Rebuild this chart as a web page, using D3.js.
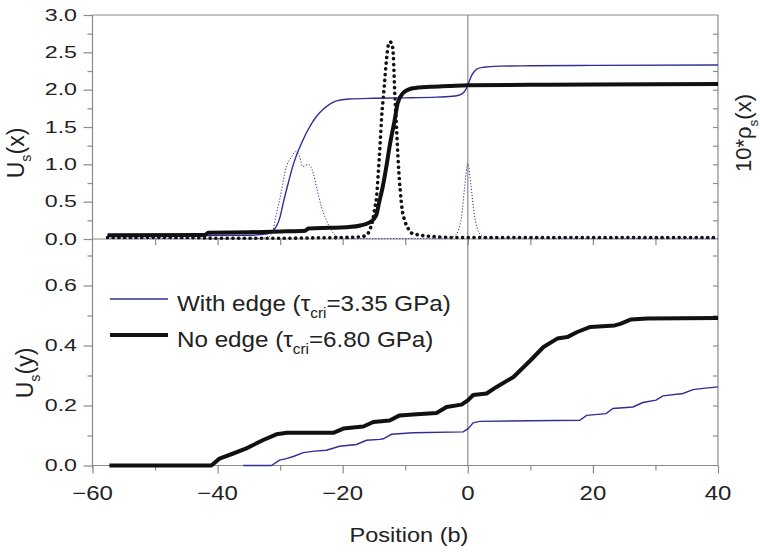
<!DOCTYPE html>
<html><head><meta charset="utf-8">
<script src="https://cdn.jsdelivr.net/npm/d3@7/dist/d3.min.js"></script>
<style>body{margin:0;background:#fff}svg{display:block}text{font-family:"Liberation Sans",Arial,sans-serif;fill:#222}</style>
</head><body><svg id="c" width="760" height="553"></svg>
<script>
// ---------- data ----------
const xTicks = [-60,-40,-20,0,20,40];
const topYTicks = [0.0,0.5,1.0,1.5,2.0,2.5,3.0];
const botYTicks = [0.0,0.2,0.4,0.6];
const legendLabels = ["With edge", "No edge"];
const legendTau = ["=3.35 GPa)", "=6.80 GPa)"];

// Us(x) with edge (blue, solid)
const edgeUx = [[-57.6,0.04],[-45,0.045],[-35,0.05],[-32,0.07],[-31,0.12],[-30,0.3],[-29.4,0.52],[-28.7,0.75],[-28,0.97],[-26.5,1.3],[-25.3,1.5],[-24.2,1.64],[-23.2,1.73],[-22,1.81],[-21,1.85],[-19,1.875],[-15,1.885],[-10,1.89],[-5,1.9],[-2,1.915],[-1,1.94],[-0.4,1.99],[0,2.06],[0.5,2.17],[1,2.24],[1.5,2.28],[2.5,2.3],[5,2.315],[10,2.32],[20,2.325],[40,2.33]];
// Us(x) no edge (black, thick)
const noEdgeUx = [[-57.6,0.05],[-42,0.055],[-41.5,0.085],[-35,0.09],[-30,0.1],[-26,0.11],[-25.5,0.14],[-22,0.15],[-19,0.16],[-17,0.185],[-16,0.21],[-15,0.27],[-14.6,0.33],[-14.2,0.48],[-13.6,0.7],[-13,0.98],[-12.5,1.24],[-11.7,1.59],[-11.2,1.82],[-10.4,1.95],[-9.5,2.0],[-8.8,2.02],[-6,2.04],[-3,2.05],[0,2.06],[10,2.065],[20,2.07],[40,2.075]];
// 10*rho_s(x) with edge (blue, dotted)
const edgeRho = [[-57.6,0.005],[-35,0.005],[-32,0.02],[-31.2,0.1],[-30.6,0.34],[-30.1,0.52],[-29,0.97],[-28.2,1.1],[-27.5,1.17],[-26.9,1.1],[-26.4,0.97],[-25.5,1.0],[-24.7,0.88],[-24.2,0.7],[-23.4,0.43],[-22.6,0.25],[-21.5,0.08],[-20.5,0.02],[-19,0.005],[-3,0.01],[-2,0.05],[-1.5,0.12],[-1,0.3],[-0.5,0.7],[0,1.01],[0.5,0.72],[1,0.35],[1.5,0.15],[2,0.06],[3,0.01],[40,0.005]];
// 10*rho_s(x) no edge (black, thick dots)
const noEdgeRho = [[-57.6,0.02],[-45,0.02],[-40,0.01],[-30,0.01],[-25,0.015],[-20,0.02],[-17,0.03],[-16,0.07],[-15.7,0.12],[-15.2,0.25],[-14.9,0.4],[-14.6,0.55],[-14.3,0.9],[-14.0,1.3],[-13.8,1.6],[-13.4,2.0],[-13.0,2.4],[-12.7,2.6],[-12.4,2.64],[-12.1,2.6],[-11.9,2.45],[-11.7,2.0],[-11.4,1.5],[-11.1,1.0],[-10.8,0.65],[-10.5,0.4],[-10.1,0.25],[-9.6,0.15],[-9.0,0.08],[-7.5,0.05],[-5,0.03],[-2,0.02],[40,0.02]];
// Us(y) with edge (blue)
const edgeUy = [[-35.9,0],[-31.4,0],[-30.1,0.018],[-29,0.023],[-27.9,0.03],[-26.3,0.043],[-24.5,0.048],[-22.6,0.051],[-20.5,0.064],[-17.8,0.07],[-16.2,0.084],[-14.1,0.087],[-13.5,0.089],[-12.2,0.104],[-8.75,0.109],[-0.75,0.112],[0.05,0.123],[0.85,0.142],[1.9,0.147],[10,0.149],[17.9,0.151],[19,0.167],[22.1,0.173],[23.2,0.19],[26.4,0.195],[28,0.21],[30.1,0.218],[31.2,0.232],[34.4,0.24],[36,0.253],[38,0.258],[40,0.262]];
// Us(y) no edge (black)
const noEdgeUy = [[-57.3,0],[-41,0],[-39.7,0.023],[-37.5,0.04],[-35.4,0.057],[-32.7,0.085],[-30.6,0.104],[-28.9,0.109],[-24.7,0.109],[-21.5,0.109],[-19.9,0.123],[-16.7,0.13],[-15.1,0.145],[-12.5,0.15],[-10.9,0.167],[-8.75,0.17],[-5.0,0.175],[-3.4,0.195],[-1.0,0.203],[0.05,0.218],[0.85,0.235],[3.0,0.24],[4.6,0.262],[7.3,0.295],[10,0.35],[12.1,0.395],[14.3,0.423],[15.9,0.428],[17.5,0.445],[19.6,0.462],[23.5,0.467],[24.5,0.473],[26.1,0.487],[28.7,0.49],[40,0.492]];

// ---------- drawing ----------
const svg = d3.select("#c");
const BLUE = "#2f2f96", AX = "#8a8a8a";
const x = d3.scaleLinear().domain([-60,40]).range([92.5,718]);
const yT = d3.scaleLinear().domain([0,3]).range([239,15]);
const yB = d3.scaleLinear().domain([0,0.6]).range([465.5,285.5]);

// frame
const frame = svg.append("g").attr("stroke",AX).attr("stroke-width",1.2).attr("fill","none");
frame.append("line").attr("x1",x(-60)).attr("x2",x(-60)).attr("y1",yT(3)).attr("y2",yB(0)+3);
frame.append("line").attr("x1",x(40)).attr("x2",x(40)).attr("y1",yT(3)).attr("y2",yB(0));
frame.append("line").attr("x1",x(-60)).attr("x2",x(40)).attr("y1",yT(3)).attr("y2",yT(3));
frame.append("line").attr("x1",x(-60)).attr("x2",x(40)).attr("y1",yT(0)).attr("y2",yT(0));
frame.append("line").attr("x1",x(-60)).attr("x2",x(40)).attr("y1",yB(0)).attr("y2",yB(0));
frame.append("line").attr("x1",x(0)).attr("x2",x(0)).attr("y1",yT(3)).attr("y2",yB(0));

// top-panel axes
const gTL = svg.append("g").attr("transform",`translate(${x(-60)},0)`)
  .call(d3.axisLeft(yT).tickValues(topYTicks).tickSize(9).tickFormat(""));
const gTLm = svg.append("g").attr("transform",`translate(${x(-60)},0)`)
  .call(d3.axisLeft(yT).tickValues(d3.range(0.25,3,0.5)).tickSize(5).tickFormat(""));
const gTR = svg.append("g").attr("transform",`translate(${x(40)},0)`)
  .call(d3.axisLeft(yT).tickValues(d3.range(0.25,3,0.25)).tickSize(5).tickFormat(""));
// bottom-panel axes
const gBL = svg.append("g").attr("transform",`translate(${x(-60)},0)`)
  .call(d3.axisLeft(yB).tickValues(botYTicks).tickSize(9).tickFormat(""));
const gBLm = svg.append("g").attr("transform",`translate(${x(-60)},0)`)
  .call(d3.axisLeft(yB).tickValues([0.1,0.3,0.5,0.7]).tickSize(5).tickFormat(""));
const gBR = svg.append("g").attr("transform",`translate(${x(40)},0)`)
  .call(d3.axisLeft(yB).tickValues([0.1,0.2,0.3,0.4,0.5,0.6,0.7]).tickSize(5).tickFormat(""));
// x ticks
const gXm = svg.append("g").attr("transform",`translate(0,${yB(0)})`)
  .call(d3.axisBottom(x).tickValues(d3.range(-50,40,20)).tickSize(5).tickFormat(""));
const gX = svg.append("g").attr("transform",`translate(0,${yB(0)})`)
  .call(d3.axisBottom(x).tickValues(xTicks).tickSize(8).tickFormat(""));
const gXmid = svg.append("g").attr("transform",`translate(0,${yT(0)})`)
  .call(d3.axisBottom(x).tickValues(d3.range(-50,40,10)).tickSize(6).tickFormat(""));
[gTL,gTLm,gTR,gBL,gBLm,gBR,gXm,gX,gXmid].forEach(g=>{
  g.select(".domain").remove();
  g.selectAll("line").attr("stroke",AX).attr("stroke-width",1.2);
});

// tick labels
const yLab = (vals, sc, fmt) => vals.forEach(v=>{
  svg.append("g").attr("transform",`translate(77,${sc(v)+5.8}) scale(1.45,1)`)
    .append("text").attr("text-anchor","end").attr("font-size",16).text(fmt(v));
});
yLab(topYTicks, yT, d3.format(".1f"));
yLab(botYTicks, yB, d3.format(".1f"));
xTicks.forEach(v=>{
  svg.append("g").attr("transform",`translate(${x(v)},500) scale(1.2,1)`)
    .append("text").attr("text-anchor","middle").attr("font-size",20)
    .text(v<0 ? "\u2212"+Math.abs(v) : String(v));
});

// series
const lineT = d3.line().x(d=>x(d[0])).y(d=>yT(d[1])).curve(d3.curveMonotoneX);
const lineB = d3.line().x(d=>x(d[0])).y(d=>yB(d[1])).curve(d3.curveLinear);
svg.append("path").datum(edgeRho).attr("d",lineT).attr("fill","none")
  .attr("stroke",BLUE).attr("stroke-width",1).attr("stroke-dasharray","1.2,1.8");
svg.append("path").datum(noEdgeRho).attr("d",lineT).attr("fill","none")
  .attr("stroke","#111").attr("stroke-width",3.6).attr("stroke-linecap","round").attr("stroke-dasharray","0.1,5.6");
svg.append("path").datum(edgeUx).attr("d",lineT).attr("fill","none")
  .attr("stroke",BLUE).attr("stroke-width",1.4);
svg.append("path").datum(noEdgeUx).attr("d",lineT).attr("fill","none")
  .attr("stroke","#111").attr("stroke-width",4);
svg.append("path").datum(edgeUy).attr("d",lineB).attr("fill","none")
  .attr("stroke",BLUE).attr("stroke-width",1.4);
svg.append("path").datum(noEdgeUy).attr("d",lineB).attr("fill","none")
  .attr("stroke","#111").attr("stroke-width",4).attr("stroke-linejoin","round");

// legend
const legY = [299, 335];
legendLabels.forEach((lab,i)=>{
  svg.append("line").attr("x1",110).attr("x2",168).attr("y1",legY[i]).attr("y2",legY[i])
    .attr("stroke", i===0?BLUE:"#111").attr("stroke-width", i===0?1.4:4);
  const t = svg.append("g").attr("transform",`translate(177,${legY[i]+12}) scale(1.1,1)`)
    .append("text").attr("font-size",22);
  t.append("tspan").text(lab+" (\u03c4");
  t.append("tspan").attr("font-size",14).attr("dy",7).text("cri");
  t.append("tspan").attr("dy",-7).text(legendTau[i]);
});

// axis titles
const rotLabel = (cx,cy,main,sub,rest,fs)=>{
  const t = svg.append("g").attr("transform",`translate(${cx},${cy}) rotate(-90)`)
    .append("text").attr("text-anchor","middle").attr("font-size",fs).attr("y",fs*0.36);
  t.append("tspan").text(main);
  t.append("tspan").attr("font-size",fs*0.62).attr("dy",fs*0.3).text(sub);
  t.append("tspan").attr("dy",-fs*0.3).text(rest);
};
rotLabel(16,153,"U","s","(x)",23);
rotLabel(25,373,"U","s","(y)",23);
rotLabel(743,133,"10*\u03c1","s","(x)",22);
svg.append("g").attr("transform","translate(409,542) scale(1.12,1)")
  .append("text").attr("text-anchor","middle").attr("font-size",21).text("Position (b)");
</script></body></html>
